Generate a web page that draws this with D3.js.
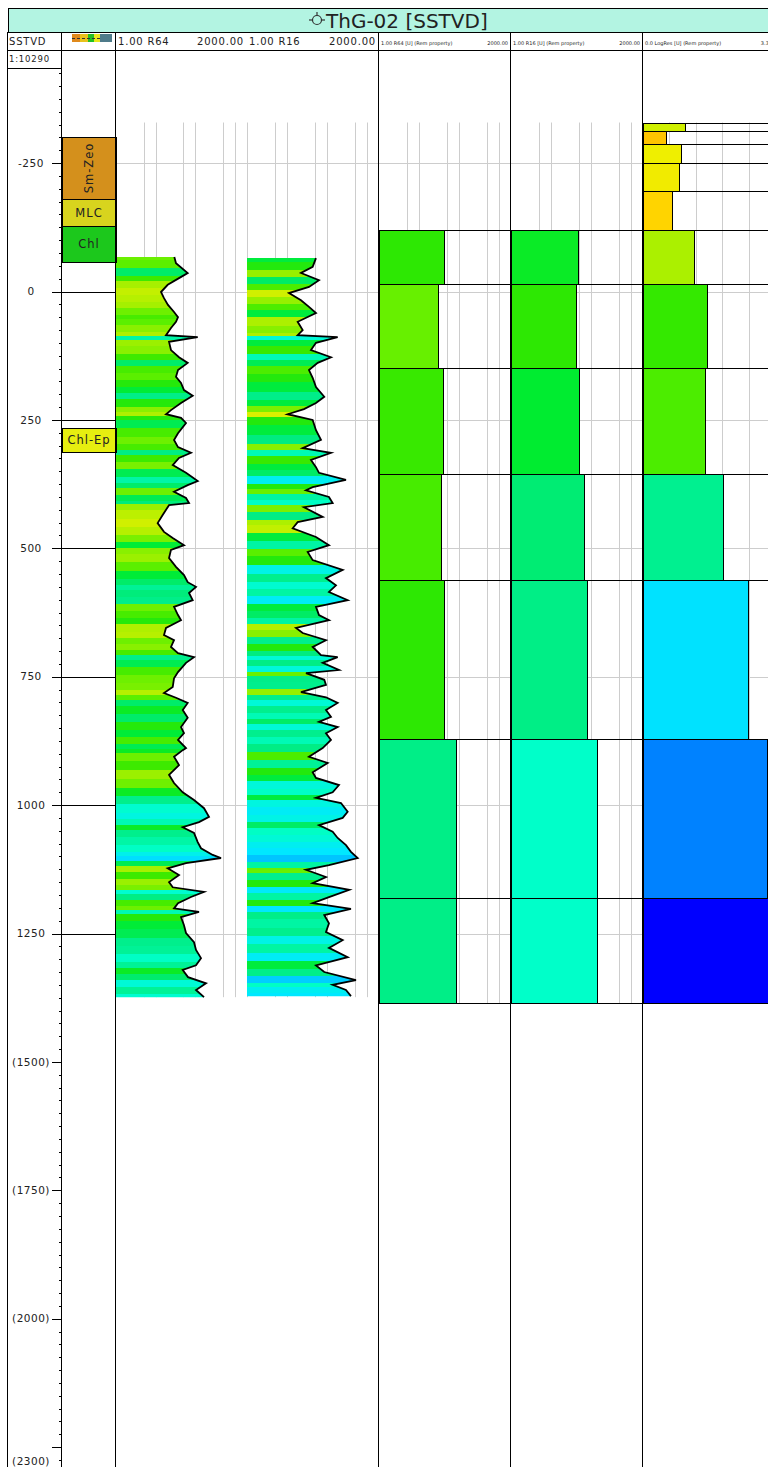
<!DOCTYPE html>
<html>
<head>
<meta charset="utf-8">
<title>ThG-02 [SSTVD]</title>
<script src="https://cdn.jsdelivr.net/npm/d3@7/dist/d3.min.js"></script>
<style>
  html, body { margin: 0; padding: 0; background: #fff; overflow: hidden; }
  svg { display: block; }
  text { font-family: "DejaVu Sans", sans-serif; fill: #222; }
</style>
</head>
<body>
<div id="well-section"></div>
<script>
const wellName = "ThG-02 [SSTVD]";
const displayScale = "1:10290";

// depth axis (SSTVD, m)
const majorDepths = [-250, 0, 250, 500, 750, 1000, 1250, 1500, 1750, 2000, 2250];
const labelledDepths = [-250, 0, 250, 500, 750, 1000, 1250, 1500, 1750, 2000];
const bottomDepth = 2300;

// alteration zones
const zoneNames = ["Sm-Zeo", "MLC", "Chl", "Chl-Ep"];
const zoneTops = [-301, -180, -127, 265];
const zoneBases = [-180, -127, -58, 313];

// resistivity logs, [depth m, ohm.m]
const r64Log = [[-67,29.5],[-55,32.5],[-36,64.1],[-26,38.7],[-13,20.1],[1,13.6],[13,16.2],[26,20.4],[40,29.0],[50,36.5],[59,32.5],[71,24.3],[85,18.2],[89,114.6],[98,21.7],[114,24.3],[128,38.7],[139,64.1],[153,36.5],[166,32.5],[178,43.5],[192,51.7],[203,85.7],[217,43.5],[231,24.3],[239,18.2],[246,43.5],[256,58.1],[276,36.5],[289,29.0],[303,36.5],[314,77.6],[324,38.7],[338,26.9],[353,58.1],[369,114.6],[377,64.1],[390,29.0],[402,58.1],[412,69.2],[416,21.7],[435,15.0],[451,11.2],[468,16.2],[480,26.9],[494,51.7],[503,24.3],[519,21.7],[536,32.5],[552,51.7],[566,64.1],[575,103.8],[587,69.2],[601,85.7],[614,29.0],[630,36.5],[640,43.5],[655,18.2],[669,16.2],[679,29.0],[692,24.3],[704,36.5],[712,92.4],[723,58.1],[741,36.5],[753,29.0],[770,26.9],[782,16.2],[791,32.5],[801,64.1],[815,48.0],[830,64.1],[848,43.5],[860,51.7],[873,36.5],[889,58.1],[893,48.0],[906,29.0],[922,38.7],[941,21.7],[957,29.0],[975,48.0],[990,92.4],[1006,165.1],[1023,220.7],[1033,123.5],[1043,48.0],[1054,92.4],[1072,114.6],[1084,138.7],[1097,273.5],[1103,442.7],[1113,58.1],[1123,20.1],[1136,38.7],[1150,21.7],[1160,26.9],[1169,165.1],[1179,77.6],[1191,36.5],[1201,29.0],[1208,123.5],[1218,43.5],[1234,51.7],[1249,58.1],[1267,92.4],[1282,103.8],[1298,138.7],[1312,103.8],[1321,48.0],[1335,65.3],[1347,185.4],[1360,103.8],[1374,165.1]];

const r16Log = [[-65,53.1],[-48,43.9],[-36,22.4],[-22,63.1],[-9,35.5],[3,11.2],[17,22.4],[30,35.5],[42,53.1],[59,18.5],[75,24.7],[85,18.5],[89,185.1],[100,53.1],[114,39.8],[128,125.9],[139,58.6],[153,35.5],[168,43.9],[186,53.1],[205,85.6],[217,53.1],[229,26.6],[239,10.4],[250,43.9],[270,53.1],[289,70.8],[305,24.7],[314,125.9],[328,39.8],[342,53.1],[353,63.1],[367,298.5],[381,43.9],[387,29.9],[400,112.2],[412,138.8],[420,26.6],[439,78.1],[449,18.5],[461,13.9],[478,53.1],[494,112.2],[507,32.9],[523,43.9],[542,246.9],[558,94.4],[572,167.9],[585,112.2],[601,329.2],[614,53.1],[630,63.1],[640,112.2],[655,16.8],[665,24.7],[679,94.4],[692,43.9],[708,70.8],[712,185.1],[723,78.1],[737,199.5],[743,29.9],[756,85.6],[766,94.4],[780,22.4],[790,94.4],[801,185.1],[815,94.4],[828,125.9],[838,63.1],[848,185.1],[860,94.4],[873,125.9],[889,78.1],[906,35.5],[918,104.1],[936,43.9],[947,53.1],[961,199.5],[975,138.8],[986,53.1],[996,223.9],[1013,329.2],[1025,246.9],[1039,63.1],[1052,138.8],[1064,185.1],[1078,298.5],[1091,398.1],[1103,585.8],[1117,112.2],[1126,29.9],[1140,94.4],[1152,43.9],[1165,361.1],[1179,112.2],[1191,43.9],[1202,398.1],[1214,85.6],[1230,112.2],[1247,94.4],[1263,246.9],[1278,112.2],[1296,329.2],[1312,53.1],[1325,85.6],[1341,530.9],[1350,138.8],[1360,298.5],[1372,398.1]];

// upscaled (Rem property) layers
const layerBounds = [-120, -14, 149, 355, 562, 871, 1180, 1386];
const r64Layers = [42.2, 30.3, 39.8, 36.5, 42.2, 82.6, 82.6];
const r16Layers = [48.2, 42.2, 50.1, 66.8, 80.9, 143.8, 143.8];
const logResBounds = [-329, -312, -287, -251, -196, -120, -14, 149, 355, 562, 871, 1180, 1386];
const logResLayers = [1.05, 0.58, 0.94, 0.91, 0.72, 1.28, 1.61, 1.55, 2.0, 2.63, 3.09, 3.3];

// track ranges
const resDomain = [1, 2000];
const resGridValues = [5, 10, 50, 100, 500, 1000];
const logResDomain = [0, 3.3];

// ---- styles ----
const colorStops = [0.55, 0.75, 0.95, 1.05, 1.3, 1.5, 1.62, 1.7, 1.85, 2.0, 2.15, 2.6, 3.1, 3.3];
const colorRamp = ["#ffc000", "#ffd800", "#eef000", "#d0f000", "#a8f000", "#60f000", "#30e800",
                   "#00ec30", "#00ec80", "#00f090", "#00ffc8", "#00e8ff", "#0080ff", "#0000ff"];
const zoneColor = d3.scaleOrdinal().domain(zoneNames).range(["#d4901c", "#d8d41e", "#1cc81c", "#e6ee10"]);

const width = 768, height = 1467;
const titleTop = 8, headerTop = 32, headerBottom = 50, scaleRowBottom = 68;
const frameRight = 790;

const cols = {
    depth: [8, 62], zone: [62, 116],
    r64: [116, 247], r16: [247, 379],
    remR64: [379, 511], remR16: [511, 643], logRes: [643, 775]
};

const px = v => Math.round(v) + 0.5;

const svg = d3.select("#well-section").append("svg")
    .attr("width", width)
    .attr("height", height);

svg.append("rect").attr("width", width).attr("height", height).attr("fill", "#fff");

const y = d3.scaleLinear().domain([0, 1000]).range([291.5, 805.1]);
const logX = c => d3.scaleLog().domain(resDomain).range(cols[c]);
const xR64 = logX("r64"), xR16 = logX("r16");
const xRemR64 = logX("remR64"), xRemR16 = logX("remR16");
const xLogRes = d3.scaleLinear().domain(logResDomain).range(cols.logRes);
const resColor = d3.scaleLinear().domain(colorStops).range(colorRamp).clamp(true);

const gridTop = logResBounds[0];
const gridBottom = layerBounds[layerBounds.length - 1];
const curveBottom = r64Log[r64Log.length - 1][0];

// ---- grid ----
const grid = svg.append("g").attr("stroke", "#cdcdcd").attr("stroke-width", 1);

[[xR64, curveBottom], [xR16, curveBottom], [xRemR64, gridBottom], [xRemR16, gridBottom]].forEach(([sx, bottom]) => {
    grid.append("g").selectAll("line")
        .data(resGridValues)
        .join("line")
        .attr("x1", d => px(sx(d))).attr("x2", d => px(sx(d)))
        .attr("y1", y(gridTop)).attr("y2", y(bottom));
});
grid.append("line")
    .attr("x1", px(xR64(resDomain[1]))).attr("x2", px(xR64(resDomain[1])))
    .attr("y1", y(gridTop)).attr("y2", y(curveBottom));

grid.append("g").selectAll("line")
    .data(d3.range(1, 5).map(i => logResDomain[1] * i / 5))
    .join("line")
    .attr("x1", d => px(xLogRes(d))).attr("x2", d => px(xLogRes(d)))
    .attr("y1", y(gridTop)).attr("y2", y(gridBottom));

grid.append("g").selectAll("line")
    .data(majorDepths.filter(d => d >= gridTop && d <= gridBottom))
    .join("line")
    .attr("x1", cols.r64[0]).attr("x2", frameRight)
    .attr("y1", d => px(y(d))).attr("y2", d => px(y(d)));

// ---- log curves with value-coloured fill ----
const defs = svg.append("defs");

function drawLog(data, sx, id) {
    const y0 = y(data[0][0]), y1 = y(data[data.length - 1][0]);
    const off = d => (y(d) - y0) / (y1 - y0);

    // each sample colours a band reaching half way to its neighbours
    const stops = [];
    data.forEach((d, i) => {
        const c = resColor(Math.log10(d[1]));
        const a = i === 0 ? d[0] : (data[i - 1][0] + d[0]) / 2;
        const b = i === data.length - 1 ? d[0] : (d[0] + data[i + 1][0]) / 2;
        stops.push({ o: off(a), c }, { o: off(b), c });
    });

    const grad = defs.append("linearGradient")
        .attr("id", id)
        .attr("gradientUnits", "userSpaceOnUse")
        .attr("x1", 0).attr("x2", 0).attr("y1", y0).attr("y2", y1);
    grad.selectAll("stop")
        .data(stops)
        .join("stop")
        .attr("offset", d => d.o)
        .attr("stop-color", d => d.c);

    const area = d3.area()
        .y(d => y(d[0]))
        .x0(sx(resDomain[0]))
        .x1(d => sx(d[1]));
    svg.append("path")
        .datum(data)
        .attr("d", area)
        .attr("fill", `url(#${id})`);

    const line = d3.line().x(d => sx(d[1])).y(d => y(d[0]));
    svg.append("path")
        .datum(data)
        .attr("d", line)
        .attr("fill", "none")
        .attr("stroke", "#000")
        .attr("stroke-width", 1.8)
        .attr("stroke-linejoin", "miter");
}

drawLog(r64Log, xR64, "fill-r64");
drawLog(r16Log, xR16, "fill-r16");

// ---- upscaled layer tracks ----
function drawLayers(bounds, values, sx, toLog) {
    const g = svg.append("g").attr("stroke", "#000").attr("stroke-width", 1);
    const rows = values.map((v, i) => ({ v, top: bounds[i], base: bounds[i + 1] }));
    const x0 = sx.range()[0];

    g.selectAll("rect.cell")
        .data(rows)
        .join("rect")
        .attr("class", "cell")
        .attr("x", px(x0)).attr("width", frameRight - x0)
        .attr("y", d => px(y(d.top))).attr("height", d => Math.round(y(d.base)) - Math.round(y(d.top)))
        .attr("fill", "none");

    g.selectAll("rect.bar")
        .data(rows)
        .join("rect")
        .attr("class", "bar")
        .attr("x", px(x0)).attr("width", d => Math.round(sx(d.v) - x0))
        .attr("y", d => px(y(d.top))).attr("height", d => Math.round(y(d.base)) - Math.round(y(d.top)))
        .attr("fill", d => resColor(toLog ? Math.log10(d.v) : d.v));
}

drawLayers(layerBounds, r64Layers, xRemR64, true);
drawLayers(layerBounds, r16Layers, xRemR16, true);
drawLayers(logResBounds, logResLayers, xLogRes, false);

// ---- depth axis ----
const axisX = cols.depth[1];
const ticks = svg.append("g").attr("stroke", "#000").attr("stroke-width", 1);

ticks.selectAll("line.minor")
    .data(d3.range(-450, bottomDepth, 25).filter(d => y(d) > scaleRowBottom + 2 && !majorDepths.includes(d)))
    .join("line")
    .attr("class", "minor")
    .attr("x1", axisX - 3).attr("x2", axisX)
    .attr("y1", d => px(y(d))).attr("y2", d => px(y(d)));

ticks.selectAll("line.major")
    .data(majorDepths)
    .join("line")
    .attr("class", "major")
    .attr("x1", axisX - 10)
    .attr("x2", d => (d >= gridTop && d <= gridBottom) ? cols.zone[1] : axisX)
    .attr("y1", d => px(y(d))).attr("y2", d => px(y(d)));

const labelX = (cols.depth[0] + cols.depth[1] - 8) / 2;
const depthText = d => d > gridBottom ? `(${d})` : `${d}`;

svg.append("g").selectAll("text")
    .data(labelledDepths)
    .join("text")
    .attr("x", labelX)
    .attr("y", d => y(d))
    .attr("dy", "0.35em")
    .attr("text-anchor", "middle")
    .attr("font-size", 10.5)
    .attr("letter-spacing", 0.5)
    .attr("fill", "#333")
    .text(depthText);

svg.append("text")
    .attr("x", labelX)
    .attr("y", height - 2)
    .attr("text-anchor", "middle")
    .attr("font-size", 10.5)
    .attr("letter-spacing", 0.5)
    .attr("fill", "#333")
    .text(depthText(bottomDepth));

// ---- zones ----
const zones = zoneNames.map((name, i) => ({ name, top: zoneTops[i], base: zoneBases[i] }));
const zoneG = svg.append("g").selectAll("g")
    .data(zones)
    .join("g");

zoneG.append("rect")
    .attr("x", px(cols.zone[0]))
    .attr("width", cols.zone[1] - cols.zone[0])
    .attr("y", d => px(y(d.top)))
    .attr("height", d => Math.round(y(d.base)) - Math.round(y(d.top)))
    .attr("fill", d => zoneColor(d.name))
    .attr("stroke", "#000");

zoneG.append("text")
    .attr("transform", d => {
        const cx = (cols.zone[0] + cols.zone[1]) / 2;
        const cy = (y(d.top) + y(d.base)) / 2;
        const tall = y(d.base) - y(d.top) > 50;
        return `translate(${cx},${cy})` + (tall ? " rotate(-90)" : "");
    })
    .attr("dy", "0.36em")
    .attr("text-anchor", "middle")
    .attr("font-size", 11.5)
    .attr("letter-spacing", 1)
    .attr("fill", "#333")
    .text(d => d.name);

// ---- frame ----
svg.append("rect")
    .attr("x", px(cols.depth[0])).attr("y", px(titleTop))
    .attr("width", frameRight).attr("height", headerTop - titleTop)
    .attr("fill", "#b3f4e2")
    .attr("stroke", "#000");

const frame = svg.append("g").attr("stroke", "#000").attr("stroke-width", 1);
const borders = [cols.depth[0], cols.depth[1], cols.zone[1], cols.r16[1], cols.remR64[1], cols.remR16[1]];
frame.selectAll("line.col")
    .data(borders)
    .join("line")
    .attr("class", "col")
    .attr("x1", d => px(d - 1)).attr("x2", d => px(d - 1))
    .attr("y1", headerTop).attr("y2", height);
frame.append("line")
    .attr("x1", cols.depth[0]).attr("x2", frameRight)
    .attr("y1", px(headerBottom)).attr("y2", px(headerBottom));
frame.append("line")
    .attr("x1", cols.depth[0]).attr("x2", cols.depth[1])
    .attr("y1", px(scaleRowBottom)).attr("y2", px(scaleRowBottom));

// ---- title ----
const symX = 317, symY = 20;
const sym = svg.append("g").attr("stroke", "#333").attr("stroke-width", 1.2).attr("fill", "none");
sym.append("circle").attr("cx", symX).attr("cy", symY).attr("r", 4.5);
sym.append("line").attr("x1", symX - 8).attr("x2", symX - 4.5).attr("y1", symY).attr("y2", symY);
sym.append("line").attr("x1", symX + 4.5).attr("x2", symX + 8).attr("y1", symY).attr("y2", symY);
sym.append("line").attr("x1", symX).attr("x2", symX).attr("y1", symY - 8).attr("y2", symY - 4.5);

svg.append("text")
    .attr("x", 326).attr("y", 28)
    .attr("font-family", "Liberation Sans, Arial, sans-serif")
    .attr("font-size", 20)
    .attr("fill", "#333")
    .text(wellName);

// ---- headers ----
const head = svg.append("g").attr("font-size", 10).attr("letter-spacing", 0.8);
head.append("text").attr("x", 9).attr("y", 45).text("SSTVD");
svg.append("text").attr("x", 9).attr("y", 62)
    .attr("font-size", 8.5).attr("letter-spacing", 0.8).text(displayScale);

function trackHead(g, range, left, right, size, ls) {
    g.append("text").attr("x", range[0] + 2).attr("y", 45)
        .attr("font-size", size).attr("letter-spacing", ls).text(left);
    g.append("text").attr("x", range[1] - 3).attr("y", 45)
        .attr("text-anchor", "end")
        .attr("font-size", size).attr("letter-spacing", ls).text(right);
}
const fmt = d3.format(".2f");
trackHead(svg, cols.r64, `${fmt(resDomain[0])} R64`, fmt(resDomain[1]), 10, 0.8);
trackHead(svg, cols.r16, `${fmt(resDomain[0])} R16`, fmt(resDomain[1]), 10, 0.8);
trackHead(svg, cols.remR64, `${fmt(resDomain[0])} R64 [U] (Rem property)`, fmt(resDomain[1]), 5, 0);
trackHead(svg, cols.remR16, `${fmt(resDomain[0])} R16 [U] (Rem property)`, fmt(resDomain[1]), 5, 0);
trackHead(svg, cols.logRes, `${d3.format(".1f")(logResDomain[0])}   LogRes [U] (Rem property)`, fmt(logResDomain[1]), 5, 0);

// zone track legend swatch
const swatchColors = ["#e08a1c", "#e8c21c", "#22c022", "#e8e81c", "#4f7b8a"];
const swatchW = [8, 8, 6, 6, 12];
const sw = svg.append("g");
let sx0 = 72;
swatchColors.forEach((c, i) => {
    sw.append("rect").attr("x", sx0).attr("y", 34).attr("width", swatchW[i]).attr("height", 8).attr("fill", c);
    sx0 += swatchW[i];
});
sw.append("line").attr("x1", 72).attr("x2", 100).attr("y1", 38.5).attr("y2", 38.5)
    .attr("stroke", "#333").attr("stroke-dasharray", "3,2");
</script>
</body>
</html>
